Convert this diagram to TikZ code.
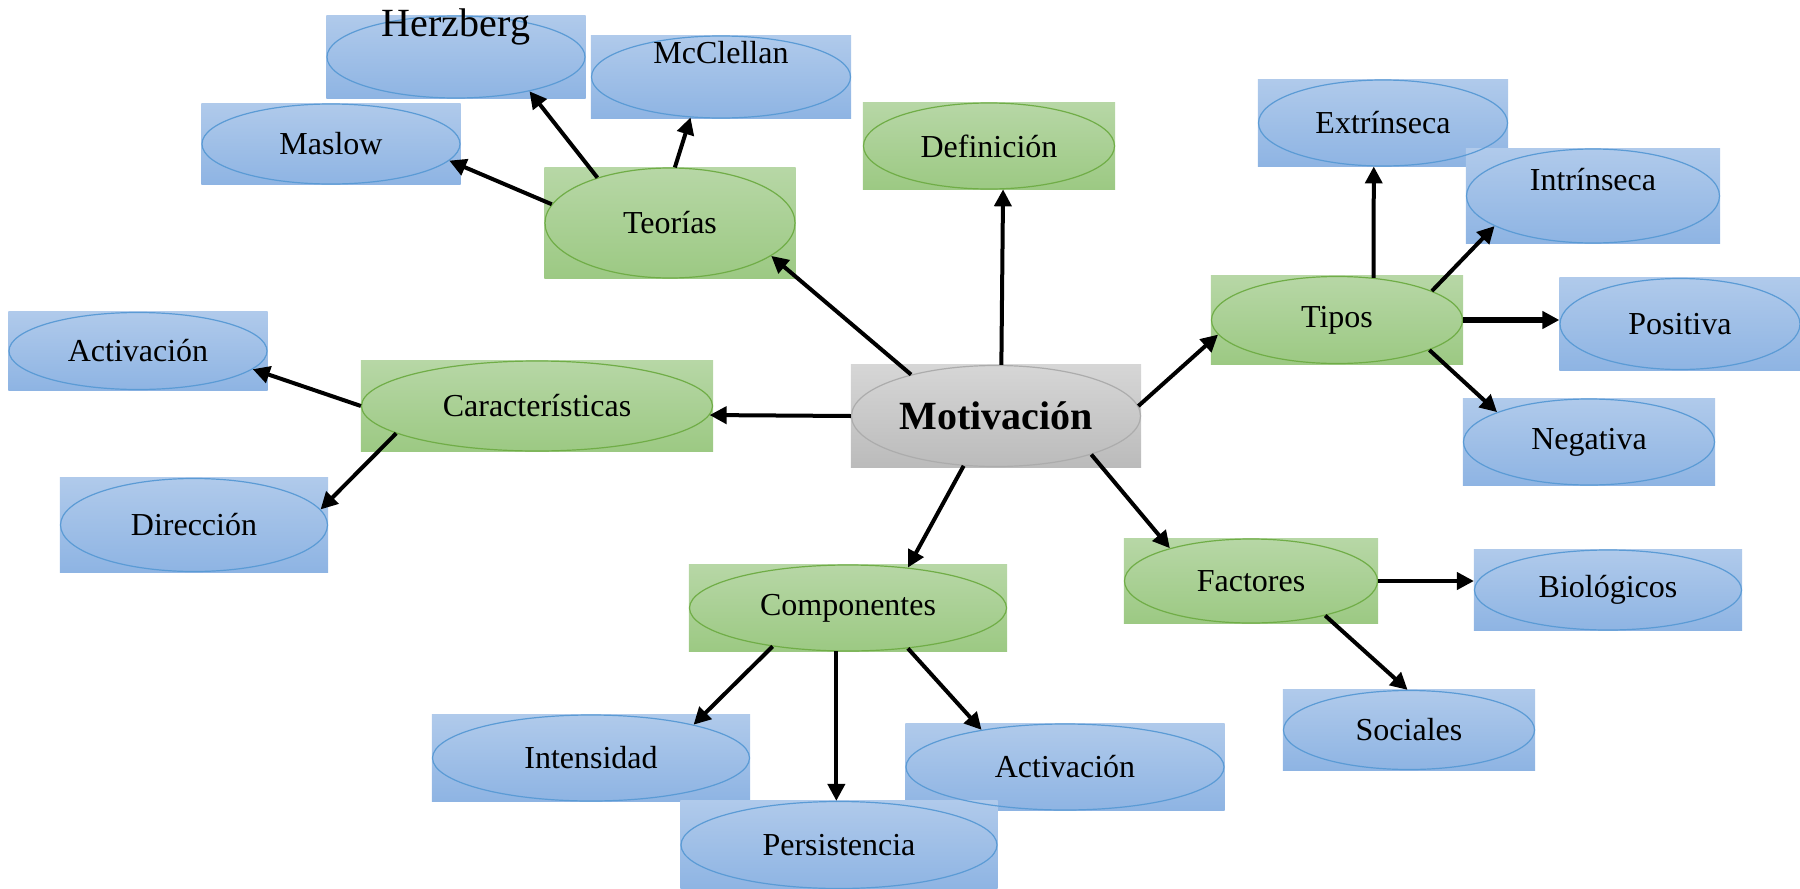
\documentclass[tikz,border=0pt]{standalone}
\usepackage{fontspec}
\setmainfont{Liberation Serif}
\usetikzlibrary{shapes.geometric,arrows.meta,backgrounds}

\definecolor{bl1}{RGB}{176,202,235}
\definecolor{bl2}{RGB}{142,180,227}
\definecolor{bl}{RGB}{91,155,213}
\definecolor{gr1}{RGB}{183,215,166}
\definecolor{gr2}{RGB}{156,201,131}
\definecolor{gr}{RGB}{112,173,71}
\definecolor{gy1}{RGB}{214,214,214}
\definecolor{gy2}{RGB}{187,187,187}
\definecolor{gy}{RGB}{172,172,172}

\tikzset{wh/.style 2 args={minimum width=#1*0.5pt, minimum height=#2*0.5pt}}

\begin{document}
\begin{tikzpicture}[
        x = 0.5pt, y = -0.5pt, % one unit per pixel, y going down
        ->, % Arrow style
        > = {Triangle[length=8.5pt,width=8.5pt]}, % arrow head style
        line width = 2pt, % line style
        font = \fontsize{16}{19}\selectfont
      ]

      \tikzstyle{idea}=[ellipse, inner sep=0pt, line width=0.6pt]
      \tikzstyle{leaf}=[idea, draw=bl]
      \tikzstyle{branch}=[idea, draw=gr]
      \tikzstyle{root}=[idea, draw=gy, font=\fontsize{20}{24}\selectfont\bfseries]

      \useasboundingbox (0,0) rectangle (1800,889);

      % centre
      \node[root, wh={289}{101}] (mot) at (996,416) {Motivación};

      % second level
      \node[branch, wh={250}{110}] (teo) at (670,223) {Teorías};
      \node[branch, wh={251}{86}] (def) at (989,146) {Definición};
      \node[branch, wh={251}{87}] (tip) at (1337,320) {Tipos};
      \node[branch, wh={351}{90}] (car) at (537,406) {Características};
      \node[branch, wh={317}{86}] (com) at (848,608) {Componentes};
      \node[branch, wh={253}{84}] (fac) at (1251,581) {Factores};

      % leaves
      \node[leaf, wh={258}{82}, label={[anchor=center, yshift=-6pt, font=\fontsize{20}{24}\selectfont]north:Herzberg}] (herz) at (456,57) {};
      \node[leaf, wh={259}{82}, label={[anchor=center, yshift=-8.5pt]north:McClellan}] (mcc) at (721,77) {};
      \node[leaf, wh={258}{80}] (mas) at (331,144) {Maslow};
      \node[leaf, wh={249}{86}] (ext) at (1383,123) {Extrínseca};
      \node[leaf, wh={253}{94}, label={[anchor=center, yshift=-15.5pt]north:Intrínseca}] (int) at (1593,196) {};
      \node[leaf, wh={240}{91}] (pos) at (1680,324) {Positiva};
      \node[leaf, wh={251}{86}] (neg) at (1589,442) {Negativa};
      \node[leaf, wh={258}{77}] (actl) at (138,351) {Activación};
      \node[leaf, wh={267}{93}] (dir) at (194,525) {Dirección};
      \node[leaf, wh={267}{80}] (bio) at (1608,590) {Biológicos};
      \node[leaf, wh={251}{79}] (soc) at (1409,730) {Sociales};
      \node[leaf, wh={317}{86}] (ints) at (591,758) {Intensidad};
      \node[leaf, wh={318}{86}] (actb) at (1065,767) {Activación};
      \node[leaf, wh={316}{87}] (per) at (839,845) {Persistencia};

      % shaded boxes behind the ellipses
      \begin{scope}[on background layer]
        \foreach \n/\col in {mot/gy, teo/gr, def/gr, tip/gr, car/gr, com/gr, fac/gr,
            herz/bl, mcc/bl, mas/bl, ext/bl, int/bl, pos/bl, neg/bl, actl/bl,
            dir/bl, bio/bl, soc/bl, ints/bl, actb/bl, per/bl}
          \shade[top color=\col1, bottom color=\col2] (\n.west |- \n.north) rectangle (\n.east |- \n.south);
      \end{scope}

      \draw (mot.154) -- (teo.-18);
      \draw (mot.84) -- (def.-72);
      \draw (mot.4) -- (tip.187);
      \draw (mot.west) -- (car.-3);
      \draw (mot.-123) -- (com.34);
      \draw (mot.-22) -- (fac.158);

      \draw (teo.171) -- (mas.-8);
      \draw (teo.148) -- (herz.-25);
      \draw (teo.85) -- (mcc.-127);

      \draw (tip.49) -- (ext.-102);
      \draw (tip.17) -- (int.-163);
      \draw[line width=3pt] (tip.east) -- (tip.east -| pos.west);
      \draw (tip.-18) -- (neg.162);

      \draw (car.west) -- (actl.-9);
      \draw (car.-169) -- (dir.7);

      \draw (fac.east) -- (fac.east -| bio.west);
      \draw (fac.-25) -- (soc.92);

      \draw (com.-153) -- (ints.18);
      \draw (com.-105) -- (com.-105 |- per.north);
      \draw (com.-34) -- (actb.156);

    \end{tikzpicture}
\end{document}
